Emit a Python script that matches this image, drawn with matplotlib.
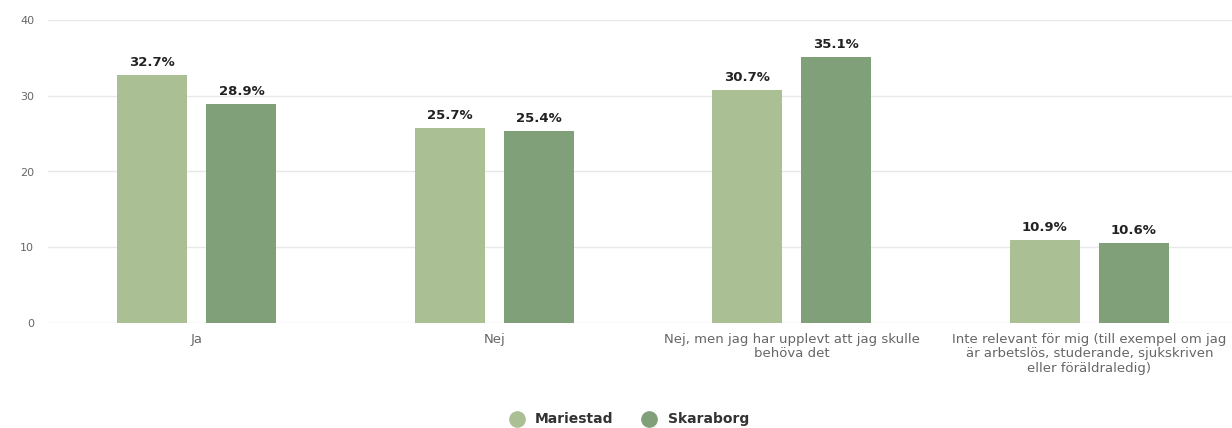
import matplotlib
matplotlib.use("Agg")
import matplotlib.pyplot as plt
import numpy as np
from matplotlib.lines import Line2D

categories = ["Ja", "Nej", "Nej, men jag har upplevt att jag skulle\nbehöva det",
              "Inte relevant för mig (till exempel om jag\när arbetslös, studerande, sjukskriven\neller föräldraledig)"]
series_names = ["Mariestad", "Skaraborg"]
mariestad = [32.7, 25.7, 30.7, 10.9]
skaraborg = [28.9, 25.4, 35.1, 10.6]
yticks = [0, 10, 20, 30, 40]

colors = ["#abbf95", "#80a07a"]

fig = plt.figure(figsize=(12.32, 4.28), dpi=100)
ax = fig.add_axes([48/1232, 105/428, 1190/1232, 303/428])
x = np.arange(len(categories))
w = 0.235
off = 0.15
for vals, c, d in [(mariestad, colors[0], -off), (skaraborg, colors[1], off)]:
    bars = ax.bar(x + d, vals, width=w, color=c, zorder=3)
    for b, v in zip(bars, vals):
        ax.text(b.get_x() + b.get_width()/2, v + 0.8, f"{v:.1f}%", ha="center", va="bottom",
                fontsize=9.5, fontweight="bold", color="#222222")

ax.set_xlim(-0.5, 3.5)
ax.set_ylim(0, 40)
ax.set_yticks(yticks)
ax.set_yticklabels([str(t) for t in yticks], fontsize=8, color="#666666")
ax.set_xticks(x)
ax.set_xticklabels(categories, fontsize=9.5, color="#666666", linespacing=1.15)
ax.tick_params(axis="both", length=0, pad=10)
ax.tick_params(axis="x", pad=7)
ax.grid(axis="y", color="#e8e8e8", linewidth=1, zorder=0)
for s in ax.spines.values():
    s.set_visible(False)

handles = [Line2D([0], [0], marker="o", linestyle="", markersize=11, markerfacecolor=c,
                  markeredgecolor=c) for c in colors]
leg = fig.legend(handles, series_names, loc="center", bbox_to_anchor=(0.508, 0.02), ncol=2,
                 frameon=False, fontsize=10, handletextpad=0.3, columnspacing=1.6)
for t in leg.get_texts():
    t.set_fontweight("bold")
    t.set_color("#333333")

fig.savefig("out.png", dpi=100)
